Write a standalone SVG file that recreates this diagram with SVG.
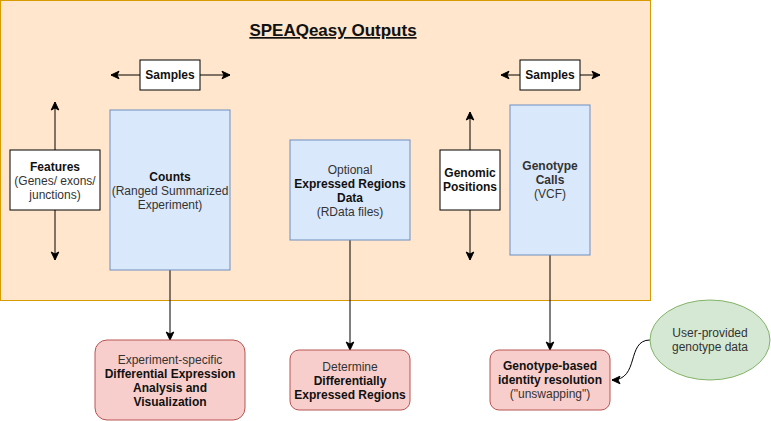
<svg xmlns="http://www.w3.org/2000/svg" width="771" height="421" viewBox="0 0 771 421">
<defs>
<style>
text{font-family:"Liberation Sans",Arial,Helvetica,sans-serif;font-size:12px;fill:#333333;text-anchor:middle}
.b{font-weight:bold;fill:#111111}
.title{font-size:17px;font-weight:bold;fill:#111111;text-decoration:underline}
.white{fill:#ffffff;stroke:#000000;stroke-width:1}
.blue{fill:#dae8fc;stroke:#6c8ebf;stroke-width:1}
.pink{fill:#f8cecc;stroke:#b85450;stroke-width:1}
.green{fill:#d5e8d4;stroke:#82b366;stroke-width:1}
.edge{fill:none;stroke:#000000;stroke-width:1;marker-end:url(#arr)}
</style>
<marker id="arr" markerUnits="userSpaceOnUse" markerWidth="10" markerHeight="10" viewBox="0 0 10 10" refX="9" refY="5" orient="auto">
<path d="M1,1.2 L9,5 L1,8.8 L3,5 Z" fill="#000000" stroke="#000000" stroke-width="1"/>
</marker>
</defs>
<g id="container">
<rect x="0.5" y="0.5" width="650" height="300" fill="#ffe6cc" stroke="#d79b00" stroke-width="1"/>
<text class="title" x="333" y="36">SPEAQeasy Outputs</text>
</g>
<g id="connectors">
<path class="edge" d="M140,75 L111,75"/>
<path class="edge" d="M200,75 L230,75"/>
<path class="edge" d="M55,150 L55,102"/>
<path class="edge" d="M55,210 L55,260"/>
<path class="edge" d="M520,75 L501,75"/>
<path class="edge" d="M580,75 L600,75"/>
<path class="edge" d="M470,150 L470,112"/>
<path class="edge" d="M470,210 L470,260"/>
<path class="edge" d="M170,270 L170,340"/>
<path class="edge" d="M350,240 L350,350"/>
<path class="edge" d="M550,255 L550,350"/>
<path class="edge" d="M650,340 C626,340 640,380 612,380"/>
</g>
<g id="samples1">
<rect class="white" x="140" y="60" width="60" height="30"/>
<text class="b" x="170" y="79">Samples</text>
</g>
<g id="features">
<rect class="white" x="10" y="150" width="90" height="60"/>
<text class="b" x="55" y="171">Features</text>
<text x="55" y="185">(Genes/ exons/</text>
<text x="55" y="199">junctions)</text>
</g>
<g id="counts">
<rect class="blue" x="110" y="110" width="120" height="160"/>
<text class="b" x="170" y="181">Counts</text>
<text x="170" y="195">(Ranged Summarized</text>
<text x="170" y="209">Experiment)</text>
</g>
<g id="optional">
<rect class="blue" x="290" y="140" width="120" height="100"/>
<text x="350" y="174">Optional</text>
<text class="b" x="350" y="188">Expressed Regions</text>
<text class="b" x="350" y="202">Data</text>
<text x="350" y="216">(RData files)</text>
</g>
<g id="samples2">
<rect class="white" x="520" y="60" width="60" height="30"/>
<text class="b" x="550" y="79">Samples</text>
</g>
<g id="genomic">
<rect class="white" x="440" y="150" width="60" height="60"/>
<text class="b" x="470" y="177">Genomic</text>
<text class="b" x="470" y="191">Positions</text>
</g>
<g id="genotype">
<rect class="blue" x="510" y="105" width="80" height="150"/>
<text class="b" x="550" y="170" style="fill:#333333">Genotype</text>
<text class="b" x="550" y="184" style="fill:#333333">Calls</text>
<text x="550" y="198">(VCF)</text>
</g>
<g id="de">
<rect class="pink" x="95" y="340" width="150" height="80" rx="12" ry="12"/>
<text x="170" y="364">Experiment-specific</text>
<text class="b" x="170" y="377.5">Differential Expression</text>
<text class="b" x="170" y="391.5">Analysis and</text>
<text class="b" x="170" y="405.5">Visualization</text>
</g>
<g id="der">
<rect class="pink" x="290" y="350" width="120" height="60" rx="9" ry="9"/>
<text x="350" y="370.5">Determine</text>
<text class="b" x="350" y="384.5">Differentially</text>
<text class="b" x="350" y="398.5">Expressed Regions</text>
</g>
<g id="unswap">
<rect class="pink" x="490" y="350" width="120" height="60" rx="9" ry="9"/>
<text class="b" x="550" y="370">Genotype-based</text>
<text class="b" x="550" y="384">identity resolution</text>
<text x="550" y="398">("unswapping")</text>
</g>
<g id="user">
<ellipse class="green" cx="710" cy="340" rx="60" ry="40"/>
<text x="710" y="337">User-provided</text>
<text x="710" y="351">genotype data</text>
</g>
</svg>
